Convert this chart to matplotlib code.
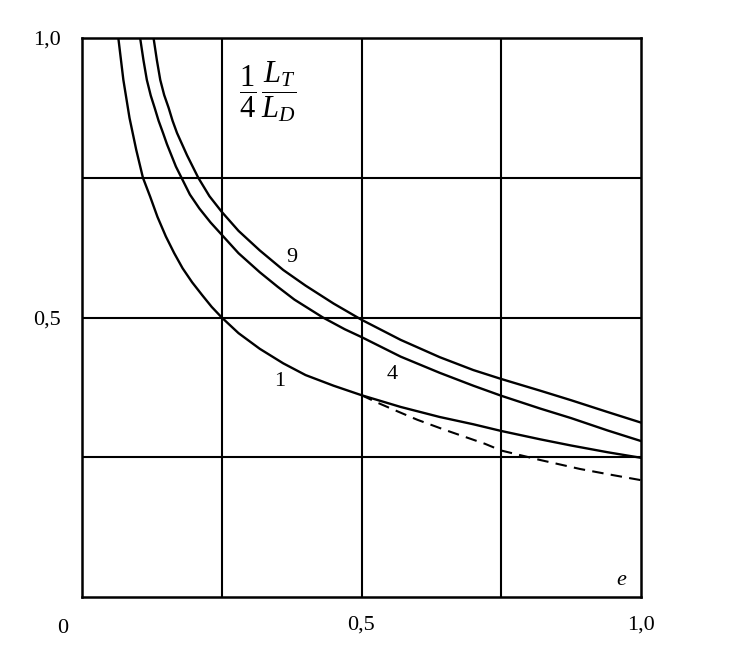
import matplotlib
matplotlib.use('Agg')
import matplotlib.pyplot as plt

plt.rcParams['font.family'] = 'Liberation Serif'
plt.rcParams['mathtext.fontset'] = 'custom'
plt.rcParams['mathtext.rm'] = 'Liberation Serif'
plt.rcParams['mathtext.it'] = 'Liberation Serif:italic'

# curve readings (e, L_T / 4 L_D)
e_1 = [0.065, 0.074, 0.085, 0.097, 0.109, 0.122, 0.135, 0.15, 0.165, 0.18, 0.197, 0.215, 0.232, 0.25, 0.28,
       0.318, 0.36, 0.4, 0.45, 0.5, 0.57, 0.64, 0.70, 0.75, 0.82, 0.875, 0.94, 1.0]
y_1 = [1.0, 0.925, 0.857, 0.80, 0.75, 0.716, 0.68, 0.645, 0.615, 0.588, 0.563, 0.54, 0.519, 0.50, 0.472,
       0.444, 0.418, 0.397, 0.378, 0.361, 0.34, 0.322, 0.309, 0.297, 0.282, 0.271, 0.259, 0.249]

e_4 = [0.104, 0.110, 0.116, 0.123, 0.13, 0.137, 0.145, 0.152, 0.16, 0.168, 0.178, 0.193, 0.21, 0.23, 0.25,
       0.28, 0.318, 0.35, 0.38, 0.431, 0.47, 0.5, 0.57, 0.64, 0.70, 0.75, 0.82, 0.875, 0.94, 1.0]
y_4 = [1.0, 0.96, 0.925, 0.897, 0.875, 0.852, 0.83, 0.81, 0.79, 0.77, 0.75, 0.72, 0.695, 0.67, 0.648,
       0.615, 0.581, 0.555, 0.532, 0.5, 0.479, 0.465, 0.43, 0.401, 0.378, 0.360, 0.337, 0.32, 0.298, 0.279]

e_9 = [0.128, 0.134, 0.140, 0.147, 0.155, 0.162, 0.17, 0.179, 0.188, 0.198, 0.208, 0.228, 0.25, 0.28,
       0.318, 0.36, 0.4, 0.45, 0.5, 0.57, 0.64, 0.70, 0.75, 0.82, 0.875, 0.94, 1.0]
y_9 = [1.0, 0.96, 0.925, 0.898, 0.875, 0.852, 0.83, 0.81, 0.79, 0.77, 0.75, 0.717, 0.689, 0.655,
       0.62, 0.585, 0.557, 0.525, 0.496, 0.46, 0.429, 0.406, 0.39, 0.369, 0.352, 0.331, 0.312]

e_dash = [0.5, 0.53, 0.56, 0.60, 0.649, 0.721, 0.75, 0.82, 0.891, 0.95, 1.0]
y_dash = [0.361, 0.347, 0.334, 0.317, 0.299, 0.274, 0.262, 0.245, 0.229, 0.218, 0.209]

fig = plt.figure(figsize=(7.42, 6.68), dpi=100)
ax = fig.add_axes([82 / 742, 71 / 668, 559 / 742, 559 / 668])

for e, y in [(e_1, y_1), (e_4, y_4), (e_9, y_9)]:
    ax.plot(e, y, color='black', lw=1.7, solid_joinstyle='round')
ax.plot(e_dash, y_dash, color='black', lw=1.5, dashes=(5.5, 3.5))

for g in [0.25, 0.5, 0.75]:
    ax.axhline(g, color='black', lw=1.5)
    ax.axvline(g, color='black', lw=1.5)

for s in ax.spines.values():
    s.set_linewidth(1.8)

ax.set_xlim(0, 1)
ax.set_ylim(0, 1)
ax.set_xticks([0.5, 1.0], ['0,5', '1,0'])
ax.set_yticks([0.5, 1.0], ['0,5', '1,0'])
ax.tick_params(length=0, labelsize=16)
ax.tick_params(axis='x', pad=13)
ax.tick_params(axis='y', pad=15)

ax.text(-0.035, -0.04, '0', transform=ax.transAxes, fontsize=16, ha='center', va='top')
ax.text(0.965, 0.03, '$e$', transform=ax.transAxes, fontsize=16, ha='center', va='center')
ax.text(0.28, 0.903, r'$\dfrac{1}{4}\,\dfrac{L_T}{L_D}$', transform=ax.transAxes,
        fontsize=22, ha='left', va='center')

ax.text(0.375, 0.607, '9', transform=ax.transAxes, fontsize=16, ha='center', va='center')
ax.text(0.555, 0.398, '4', transform=ax.transAxes, fontsize=16, ha='center', va='center')
ax.text(0.353, 0.386, '1', transform=ax.transAxes, fontsize=16, ha='center', va='center')

fig.savefig('out.png', dpi=100)
